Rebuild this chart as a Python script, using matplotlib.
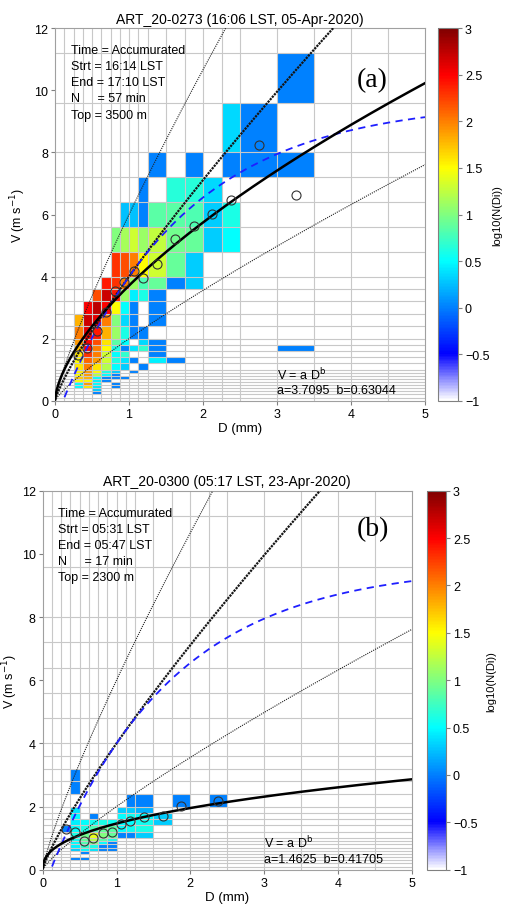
import numpy as np
import matplotlib.pyplot as plt
from matplotlib.colors import LinearSegmentedColormap
from matplotlib.ticker import FuncFormatter

plt.rcParams['font.family'] = ['Liberation Sans', 'DejaVu Sans']

# Parsivel size / velocity class bounds
d_edges = np.array([0, 0.125, 0.25, 0.375, 0.5, 0.625, 0.75, 0.875, 1.0, 1.125, 1.25,
                    1.5, 1.75, 2.0, 2.25, 2.5, 3.0, 3.5, 4.0, 4.5, 5.0])
v_edges = np.array([0, 0.1, 0.2, 0.3, 0.4, 0.5, 0.6, 0.7, 0.8, 0.9, 1.0,
                    1.2, 1.4, 1.6, 1.8, 2.0, 2.4, 2.8, 3.2, 3.6, 4.0,
                    4.8, 5.6, 6.4, 7.2, 8.0, 9.6, 11.2, 12.8])

n = np.nan
# log10(N(Di)) per velocity class: {v_class: (first d_class, values)}
cells_a = {
    26: (16, [0]),
    25: (14, [0.35, 0]),
    24: (10, [0, n, 0, n, 0, 0, 0]),
    23: (9, [0, n, 0.65, 0.65, 0.35]),
    22: (7, [0.25, 0.25, 0, 0.85, 0.85, 0.8, 0.3, 0.6]),
    21: (6, [1.0, 1.15, 1.3, 1.1, 1.25, 0.95, 0.9, 0.3, 0.5]),
    20: (6, [2.3, 2.2, 2.0, 1.5, 1.3, 0.9, 0.3]),
    19: (5, [2.4, 2.3, 2.0, 1.1, 0.8, 0.9, 0, 0.3]),
    18: (4, [2.2, 2.7, 2.4, 1.1, 0.45, 0.6, 0]),
    17: (3, [2.5, 2.75, 2.5, 1.5, 0.5, 0, n, 0]),
    16: (2, [1.8, 2.7, 2.6, 2.0, 1.0, 0.35, 0, n, 0]),
    15: (2, [2.0, 2.6, 2.4, 1.8, 1.1, 0.6, 0, 0]),
    14: (2, [1.9, 2.5, 2.2, 1.6, 0.85, 0.5, n, 0.35, 0]),
    13: (2, [1.75, 2.5, 2.0, 1.5, 0.6, 0, 0.4, 0.7, 0, n, n, n, n, n, 0]),
    12: (2, [1.6, 2.3, 2.0, 1.3, 0.5, 0.7, n, n, 0]),
    11: (2, [1.5, 2.1, 1.9, 1.3, 0.6, 0.4, 0, n, 0.45, 0]),
    10: (2, [1.6, 2.0, 1.6, 1.2, 0.5, 0.3, n, 0]),
    9: (2, [1.55, 1.9, 1.5, 0.6, 0.3, n, 0]),
    8: (2, [1.5, 1.9, 1.2, 0.5, 0]),
    7: (2, [1.7, 1.8, 0.5, 0, 0, 0]),
    6: (2, [1.5, 1.5, 0.45, 0]),
    5: (2, [0.5, 1.9, 0.5, n, 0]),
    4: (2, [0.5, 1.6, 0.4, n, 0]),
    3: (4, [0.3]),
    2: (4, [0]),
}
cells_b = {
    17: (3, [0]),
    16: (3, [0]),
    15: (9, [0, 0, n, 0, n, 0]),
    14: (3, [0.4, n, n, n, n, 0.3, 0.3, 0.2]),
    13: (3, [0.5, n, 0, n, n, 0.5, 0.55, 0.5, 0.3]),
    12: (3, [0.45, 0.5, 0.55, 0.6, 0.55, 0.5, 0.5, 0.55, 0.3]),
    11: (2, [0, 0.5, 0.6, 0.8, 0.9, 0.85, 0.5, 0.55, 0.6]),
    10: (3, [0.6, 0.95, 1.4, 1.0, 0.9, 0, 0, 0.3]),
    9: (3, [0.55, 0.9, 1.2, 0.85, 0.6]),
    8: (3, [0.5, 0.8, 1.0, 0.5, 0]),
    7: (3, [0.45, 0.7, 0.6, 0, 0]),
    6: (3, [0.3, 0.5, 0.4, 0, 0]),
    5: (4, [0]),
    3: (3, [0, 0]),
}

# mean fall speed per size class
mean_d_a = [0.3125, 0.4375, 0.5625, 0.6875, 0.8125, 0.9375, 1.0625, 1.1875,
            1.375, 1.625, 1.875, 2.125, 2.375, 2.75, 3.25]
mean_v_a = [1.46, 1.7, 2.24, 2.86, 3.55, 3.83, 4.18, 3.96,
            4.39, 5.21, 5.62, 6.01, 6.48, 8.23, 6.63]
mean_d_b = [0.3125, 0.4375, 0.5625, 0.6875, 0.8125, 0.9375, 1.0625, 1.1875,
            1.375, 1.625, 1.875, 2.375]
mean_v_b = [1.29, 1.18, 0.92, 1.01, 1.16, 1.2, 1.45, 1.54, 1.66, 1.69, 2.03, 2.19]

fit_a = (3.7095, 0.63044)
fit_b = (1.4625, 0.41705)
ref_a, ref_b = 4.0, 0.83   # reference power law (with +-50% bounds)

titles = ['ART_20-0273 (16:06 LST, 05-Apr-2020)', 'ART_20-0300 (05:17 LST, 23-Apr-2020)']
infos = [['Time = Accumurated', 'Strt = 16:14 LST', 'End = 17:10 LST', 'N     = 57 min', 'Top = 3500 m'],
         ['Time = Accumurated', 'Strt = 05:31 LST', 'End = 05:47 LST', 'N     = 17 min', 'Top = 2300 m']]
tags = ['(a)', '(b)']

cmap = LinearSegmentedColormap.from_list('wjet', [
    (0.0, (1, 1, 1)), (0.125, (0, 0, 1)), (0.375, (0, 1, 1)),
    (0.625, (1, 1, 0)), (0.875, (1, 0, 0)), (1.0, (0.5, 0, 0))])


def grid_from(rows):
    z = np.full((len(v_edges) - 1, len(d_edges) - 1), np.nan)
    for vi, (d0, vals) in rows.items():
        z[vi, d0:d0 + len(vals)] = vals
    return np.ma.masked_invalid(z)


fig = plt.figure(figsize=(5.05, 9.12), dpi=100)
W, H = 505, 912
ax_pos = [[55, 29.3, 425, 401.7], [42.7, 491.7, 411.7, 870.7]]
cb_pos = [[438, 29.3, 458, 401.7], [427, 491.7, 446, 870.7]]
tag_pos = [(0.857, 0.863), (0.896, 0.899)]
ylab_pad = [4, 1]
cb_pad = [2, 6]

D = np.linspace(0.001, 5, 600)
for k in range(2):
    x0, y0, x1, y1 = ax_pos[k]
    ax = fig.add_axes([x0 / W, 1 - y1 / H, (x1 - x0) / W, (y1 - y0) / H])
    c0, cy0, c1, cy1 = cb_pos[k]
    cax = fig.add_axes([c0 / W, 1 - cy1 / H, (c1 - c0) / W, (cy1 - cy0) / H])

    z = grid_from([cells_a, cells_b][k])
    mesh = ax.pcolormesh(d_edges, v_edges, z, cmap=cmap, vmin=-1, vmax=3, zorder=1)
    ax.vlines(d_edges[1:-1], 0, 12, colors='#c8c8c8', lw=0.8, zorder=2)
    ax.hlines(v_edges[1:-1], 0, 5, colors='#c8c8c8', lw=0.8, zorder=2)

    ref = ref_a * D ** ref_b
    ax.plot(D, 1.5 * ref, color='#202020', lw=0.8, ls=(0, (1, 1)), zorder=3)
    ax.plot(D, 0.5 * ref, color='#202020', lw=0.8, ls=(0, (1, 1)), zorder=3)
    ax.plot(D, ref, color='#151515', lw=1.6, ls=(0, (1, 0.45)), zorder=3)
    ax.plot(D, 9.65 - 10.3 * np.exp(-0.6 * D), color='#1f1fff', lw=1.3,
            ls=(0, (4, 3)), zorder=3)
    a, b = [fit_a, fit_b][k]
    ax.plot(D, a * D ** b, color='black', lw=1.8, zorder=4)
    ax.plot([mean_d_a, mean_d_b][k], [mean_v_a, mean_v_b][k], 'o', mfc='none',
            mec='#333333', ms=6.5, mew=0.8, zorder=5)

    ax.set_xlim(0, 5)
    ax.set_ylim(0, 12)
    ax.set_xticks(range(6))
    ax.set_yticks(range(0, 13, 2))
    ax.tick_params(labelsize=9, length=3, color='#808080', pad=2)
    for s in ax.spines.values():
        s.set_color('#a0a0a0')
    ax.set_xlabel('D (mm)', fontsize=9.5, labelpad=2)
    ax.set_ylabel('V (m s$^{-1}$)', fontsize=9, labelpad=ylab_pad[k])
    ax.set_title(titles[k], fontsize=10, pad=4)

    ax.text(0.042, 0.957, '\n'.join(infos[k]), transform=ax.transAxes, fontsize=9,
            va='top', ha='left', linespacing=1.45, zorder=6)
    ax.text(*tag_pos[k], tags[k], transform=ax.transAxes, fontsize=20,
            family='Liberation Serif', ha='center', va='center', zorder=6)
    ax.text(0.60, 0.072, 'V = a D$^{\\rm b}$', transform=ax.transAxes, fontsize=9,
            ha='left', va='center', zorder=6)
    ax.text(0.60, 0.028, 'a=%g  b=%g' % (a, b), transform=ax.transAxes, fontsize=9,
            ha='left', va='center', zorder=6)

    cb = fig.colorbar(mesh, cax=cax, ticks=np.arange(-1, 3.01, 0.5))
    cb.ax.yaxis.set_major_formatter(FuncFormatter(lambda v, p: ('%g' % v).replace('-', '\u2212')))
    cb.ax.tick_params(labelsize=9, length=3, color='#808080', pad=2)
    cb.outline.set_edgecolor('#808080')
    cb.set_label('log10(N(Di))', fontsize=8, labelpad=cb_pad[k])

fig.savefig('out.png', dpi=100)
